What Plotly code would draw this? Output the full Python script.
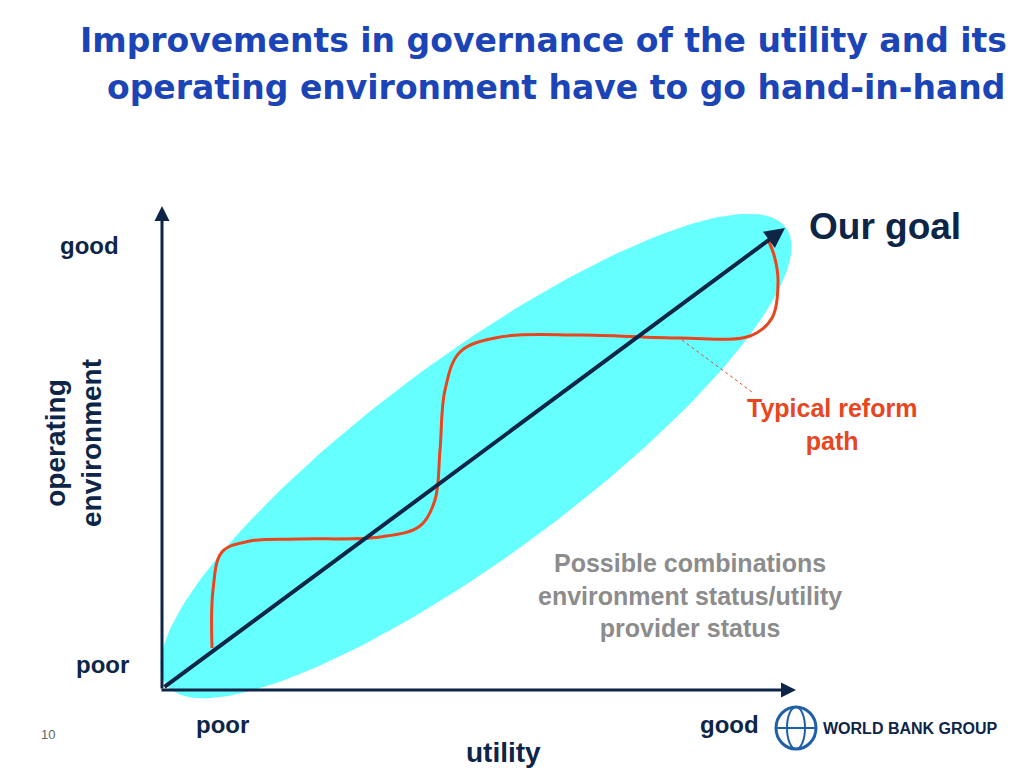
import numpy as np
import plotly.graph_objects as go

# red "typical reform path" waypoints (pixel space of the slide)
path_x = [212, 213, 222, 250, 300, 380, 420, 435, 440, 445, 460, 500, 580, 680, 750, 772, 778, 774, 768]
path_y = [648, 590, 552, 541, 539, 537, 526, 500, 450, 390, 352, 337, 335, 338, 336, 318, 280, 255, 240]

# ellipse of possible combinations
ell_cx, ell_cy = 476, 456
ell_a, ell_b, ell_angle = 385, 100, 36.4

# diagonal goal line
goal_x = [163, 785]
goal_y = [688, 228]

navy = "#0d2547"
red = "#e8461e"
blue = "#1b44b6"
grey = "#8c8c8c"

fig = go.Figure()

t = np.linspace(0, 2 * np.pi, 200)
ang = np.deg2rad(ell_angle)
ex = ell_cx + ell_a * np.cos(t) * np.cos(ang) + ell_b * np.sin(t) * np.sin(ang)
ey = ell_cy - ell_a * np.cos(t) * np.sin(ang) + ell_b * np.sin(t) * np.cos(ang)
fig.add_trace(go.Scatter(x=ex, y=ey, fill="toself", fillcolor="#66ffff",
                         line=dict(width=0), mode="lines", hoverinfo="skip"))

fig.add_trace(go.Scatter(x=path_x, y=path_y, mode="lines",
                         line=dict(color=red, width=3, shape="spline", smoothing=1.0),
                         hoverinfo="skip"))

fig.add_trace(go.Scatter(x=[682, 752], y=[340, 392], mode="lines",
                         line=dict(color=red, width=1, dash="dot"), hoverinfo="skip"))

# goal line + axes as arrows
arrows = [
    (goal_x[0], goal_y[0], goal_x[1], goal_y[1], 4),
    (162, 690, 162, 206, 3),
    (160, 690, 796, 690, 3),
]
for x0, y0, x1, y1, w in arrows:
    fig.add_annotation(x=x1, y=y1, ax=x0, ay=y0, xref="x", yref="y", axref="x", ayref="y",
                       showarrow=True, arrowhead=2, arrowsize=1, arrowwidth=w,
                       arrowcolor=navy, text="")

bold = "Liberation Sans"
texts = [
    (543, 40, "<b>Improvements in governance of the utility and its</b>", 33, blue, "DejaVu Sans", "center"),
    (556, 87, "<b>operating environment have to go hand-in-hand</b>", 33, blue, "DejaVu Sans", "center"),
    (885, 226, "<b>Our goal</b>", 37, navy, bold, "center"),
    (89, 245, "<b>good</b>", 24, navy, bold, "center"),
    (102, 664, "<b>poor</b>", 24, navy, bold, "center"),
    (222, 724, "<b>poor</b>", 24, navy, bold, "center"),
    (729, 724, "<b>good</b>", 24, navy, bold, "center"),
    (503, 752, "<b>utility</b>", 28, navy, bold, "center"),
    (832, 424, "<b>Typical reform<br>path</b>", 25, red, bold, "center"),
    (690, 595, "<b>Possible combinations<br>environment status/utility<br>provider status</b>", 25, grey, bold, "center"),
    (48, 734, "10", 13, "#666666", bold, "center"),
    (910, 728, "<b>WORLD BANK GROUP</b>", 16, navy, bold, "center"),
]
for x, y, s, size, col, fam, al in texts:
    fig.add_annotation(x=x, y=y, xref="x", yref="y", text=s, showarrow=False,
                       font=dict(size=size, color=col, family=fam), align=al)

fig.add_annotation(x=73, y=443, xref="x", yref="y", text="<b>operating<br>environment</b>",
                   showarrow=False, textangle=-90, align="center",
                   font=dict(size=28, color=navy, family=bold))

# globe logo
fig.add_shape(type="circle", x0=776, y0=707, x1=816, y1=749, line=dict(color="#1f5fa8", width=3))
fig.add_shape(type="circle", x0=787, y0=707, x1=805, y1=749, line=dict(color="#1f5fa8", width=2))
fig.add_shape(type="line", x0=777, y0=728, x1=815, y1=728, line=dict(color="#1f5fa8", width=2))

# ranges offset by the page's 8px body margin
fig.update_xaxes(range=[8, 1032], visible=False, fixedrange=True)
fig.update_yaxes(range=[776, 8], visible=False, fixedrange=True)
fig.update_layout(width=1024, height=768, margin=dict(l=0, r=0, t=0, b=0),
                  plot_bgcolor="white", paper_bgcolor="white", showlegend=False)

fig.write_html("out.html")
